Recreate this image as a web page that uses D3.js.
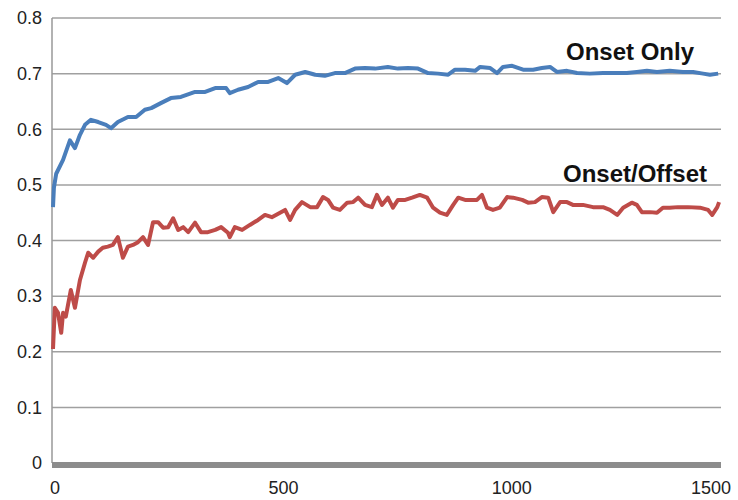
<!DOCTYPE html>
<html>
<head>
<meta charset="utf-8">
<script src="https://cdn.jsdelivr.net/npm/d3@7"></script>
<style>
  body { margin: 0; background: #fff; }
  .tick-y { font-family: "Liberation Sans", Arial, sans-serif; font-size: 18px; fill: #222; }
  .tick-x { font-family: "Liberation Sans", Arial, sans-serif; font-size: 18px; fill: #222; }
  .series-label { font-family: "Liberation Sans", Arial, sans-serif; font-size: 24px; font-weight: bold; fill: #111; }
</style>
</head>
<body>
<div id="chart"></div>
<script>
// x positions (iterations) and accuracy values
var onsetOnlyX = [0, 2, 7, 22, 37, 48, 59, 70, 83, 99, 116, 127, 142, 164, 182, 201, 215, 236, 258, 280,
    311, 333, 355, 379, 387, 405, 427, 449, 471, 493, 512, 530, 552, 574, 595, 617, 639, 661, 683, 705,
    733, 755, 777, 799, 821, 843, 865, 880, 902, 924, 935, 957, 972, 985, 1005, 1029, 1051, 1070, 1088, 1103,
    1125, 1147, 1175, 1204, 1235, 1256, 1278, 1300, 1322, 1350, 1379, 1401, 1423, 1438, 1456];
var onsetOnlyY = [0.46, 0.495, 0.52, 0.545, 0.58, 0.566, 0.59, 0.608, 0.617, 0.613, 0.608, 0.602, 0.613, 0.622, 0.622, 0.635, 0.638, 0.647, 0.656, 0.658,
    0.667, 0.667, 0.674, 0.674, 0.665, 0.671, 0.676, 0.685, 0.685, 0.692, 0.683, 0.698, 0.703, 0.698, 0.696, 0.701, 0.701, 0.709, 0.71, 0.709,
    0.712, 0.709, 0.71, 0.709, 0.701, 0.70, 0.698, 0.707, 0.707, 0.705, 0.712, 0.71, 0.701, 0.712, 0.714, 0.707, 0.707, 0.71, 0.712, 0.703,
    0.705, 0.701, 0.70, 0.701, 0.701, 0.701, 0.703, 0.705, 0.703, 0.705, 0.703, 0.703, 0.70, 0.698, 0.70];

var onsetOffsetX = [0, 4, 11, 18, 22, 28, 39, 48, 59, 70, 77, 88, 99, 109, 120, 131, 142, 153, 164, 175,
    186, 197, 208, 219, 230, 241, 252, 263, 274, 285, 296, 311, 324, 339, 355, 368, 383, 387, 398, 414,
    431, 449, 464, 479, 497, 508, 519, 530, 545, 563, 578, 591, 602, 613, 628, 644, 657, 668, 683, 698,
    709, 720, 733, 744, 755, 771, 786, 803, 819, 832, 847, 862, 876, 887, 902, 919, 928, 939, 950, 963,
    978, 994, 1007, 1027, 1040, 1055, 1070, 1084, 1095, 1110, 1125, 1138, 1160, 1182, 1204, 1219, 1235, 1248, 1267, 1278,
    1289, 1307, 1322, 1335, 1350, 1368, 1390, 1416, 1434, 1443, 1454, 1458];
var onsetOffsetY = [0.205, 0.279, 0.27, 0.234, 0.27, 0.263, 0.311, 0.279, 0.329, 0.36, 0.378, 0.369, 0.38, 0.387, 0.389, 0.392, 0.406, 0.369, 0.389, 0.392,
    0.397, 0.406, 0.392, 0.433, 0.433, 0.423, 0.424, 0.44, 0.419, 0.424, 0.415, 0.432, 0.415, 0.415, 0.419, 0.424, 0.414, 0.406, 0.424, 0.419,
    0.428, 0.437, 0.446, 0.442, 0.45, 0.455, 0.437, 0.455, 0.469, 0.46, 0.46, 0.478, 0.473, 0.459, 0.455, 0.468, 0.469, 0.477, 0.464, 0.46,
    0.482, 0.464, 0.477, 0.459, 0.473, 0.473, 0.477, 0.482, 0.477, 0.459, 0.45, 0.446, 0.464, 0.477, 0.473, 0.473, 0.473, 0.482, 0.459, 0.455,
    0.459, 0.478, 0.477, 0.473, 0.468, 0.469, 0.478, 0.477, 0.451, 0.469, 0.469, 0.464, 0.464, 0.46, 0.46, 0.455, 0.446, 0.459, 0.468, 0.464,
    0.451, 0.451, 0.45, 0.459, 0.459, 0.46, 0.46, 0.459, 0.455, 0.446, 0.46, 0.469];

var yTicks = [0, 0.1, 0.2, 0.3, 0.4, 0.5, 0.6, 0.7, 0.8];
var xTicks = [0, 500, 1000, 1500];
var seriesNames = ['Onset Only', 'Onset/Offset'];

var width = 738, height = 500;
var plotLeft = 53, plotRight = 720, plotTop = 18, plotBottom = 463;

var svg = d3.select('#chart')
    .append('svg')
    .attr('width', width)
    .attr('height', height);

var x = d3.scaleLinear().domain([0, 1460]).range([plotLeft, plotRight]);
var y = d3.scaleLinear().domain([0, 0.8]).range([plotBottom, plotTop]);

// gridlines
svg.selectAll('.grid')
    .data(yTicks.slice(1))
    .enter()
    .append('line')
    .attr('x1', plotLeft - 1)
    .attr('x2', plotRight + 1)
    .attr('y1', (d) => y(d))
    .attr('y2', (d) => y(d))
    .style('stroke', '#a0a0a0')
    .style('stroke-width', 1.5);

// y axis line
svg.append('line')
    .attr('x1', plotLeft - 1).attr('x2', plotLeft - 1)
    .attr('y1', plotTop).attr('y2', plotBottom)
    .style('stroke', '#999')
    .style('stroke-width', 1.5);

// y tick labels
svg.selectAll('.tick-y')
    .data(yTicks)
    .enter()
    .append('text')
    .attr('class', 'tick-y')
    .attr('x', 42)
    .attr('y', (d) => y(d))
    .attr('dy', '0.35em')
    .attr('text-anchor', 'end')
    .text((d) => d == 0 ? '0' : d3.format('.1f')(d));

// thick bottom axis bar
svg.append('line')
    .attr('x1', plotLeft - 1).attr('x2', plotRight + 1)
    .attr('y1', plotBottom + 2).attr('y2', plotBottom + 2)
    .style('stroke', '#8c8c8c')
    .style('stroke-width', 6);

// x tick labels (the last one is pushed inside the picture)
svg.selectAll('.tick-x')
    .data(xTicks)
    .enter()
    .append('text')
    .attr('class', 'tick-x')
    .attr('x', (d) => Math.min(x(d) + 2, width - 27))
    .attr('y', 494)
    .attr('text-anchor', 'middle')
    .text((d) => d);

var line = d3.line()
    .x((d) => x(d[0]))
    .y((d) => y(d[1]));

var seriesData = [
    d3.zip(onsetOnlyX, onsetOnlyY),
    d3.zip(onsetOffsetX, onsetOffsetY)
];
var colors = ['#4a7ebb', '#be4b48'];

svg.selectAll('.series')
    .data(seriesData)
    .enter()
    .append('path')
    .attr('d', line)
    .style('fill', 'none')
    .style('stroke', (d, i) => colors[i])
    .style('stroke-width', 4)
    .style('stroke-linejoin', 'round');

// series labels
svg.selectAll('.series-label')
    .data(seriesNames)
    .enter()
    .append('text')
    .attr('class', 'series-label')
    .attr('x', (d, i) => i == 0 ? 694 : 707)
    .attr('y', (d, i) => i == 0 ? y(0.73) + 3 : y(0.51) + 3)
    .attr('text-anchor', 'end')
    .text((d) => d);
</script>
</body>
</html>
